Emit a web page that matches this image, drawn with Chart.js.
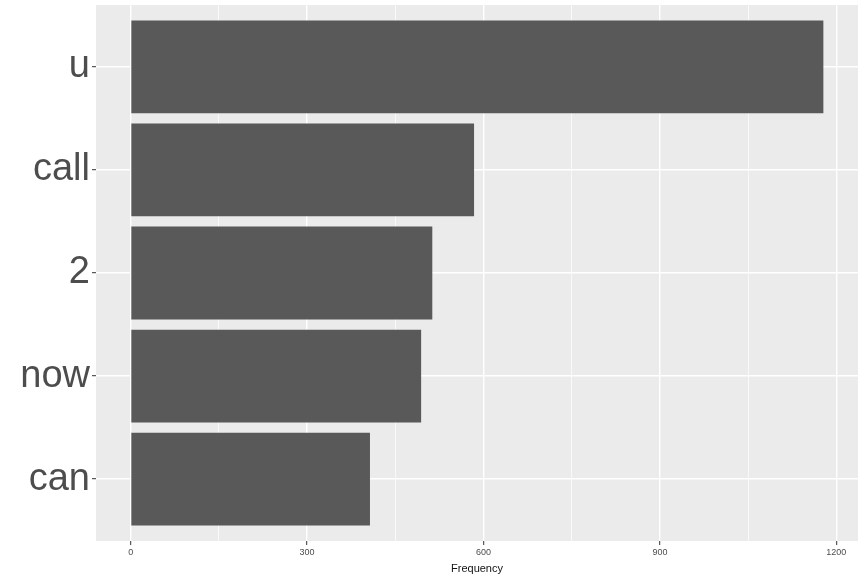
<!DOCTYPE html>
<html>
<head>
<meta charset="utf-8">
<script src="https://cdn.jsdelivr.net/npm/chart.js@4"></script>
<style>
html,body{margin:0;background:#fff}
#wrap{width:864px;height:576px}
</style>
</head>
<body>
<div id="wrap"><canvas id="wordChart"></canvas></div>
<script>
// ==========================================
// Top words - frequency bars
// ==========================================

const words = ["u", "call", "2", "now", "can"];
const counts = [1178, 584, 513, 494, 407];
const majorTicks = [0, 300, 600, 900, 1200];
const minorTicks = [150, 450, 750, 1050];

const PANEL_BG = "#EBEBEB";
const FONT = "'Liberation Sans', Arial, sans-serif";

// grey panel behind everything, like ggplot
const panelBg = {
    id: "panelBg",
    beforeDraw(chart){
        const a = chart.chartArea;
        const ctx = chart.ctx;
        ctx.save();
        ctx.fillStyle = PANEL_BG;
        ctx.fillRect(a.left, a.top, a.right - a.left, a.bottom - a.top);
        ctx.restore();
    },
    // discrete axis gets 0.6 of a band as padding on each side
    afterLayout(chart){
        const s = chart.scales.y;
        s._startValue = -0.6;
        s._valueRange = words.length - 1 + 1.2;
    }
};

const isMajor = v => majorTicks.includes(v);

new Chart(

    document.getElementById("wordChart"),

    {
        type: "bar",

        data: {
            labels: words,
            datasets: [{
                label: "Frequency",
                data: counts,
                backgroundColor: "#595959",
                borderWidth: 0,
                categoryPercentage: 1,
                barPercentage: 0.9
            }]
        },

        options: {
            indexAxis: "y",
            responsive: true,
            maintainAspectRatio: false,
            animation: false,
            layout: {
                padding: { top: 5, right: 6, left: 0, bottom: 0 }
            },
            plugins: {
                legend: { display: false },
                tooltip: { enabled: false }
            },
            scales: {
                x: {
                    type: "linear",
                    min: -58.9,
                    max: 1236.9,
                    afterBuildTicks(scale){
                        scale.ticks = majorTicks.concat(minorTicks)
                            .sort((a, b) => a - b)
                            .map(v => ({ value: v }));
                    },
                    afterFit(scale){
                        scale.height = 35;
                        scale.paddingLeft = 0;
                        scale.paddingRight = 0;
                    },
                    border: { display: false },
                    grid: {
                        color: "#ffffff",
                        lineWidth: ctx => isMajor(ctx.tick.value) ? 1.4 : 0.7,
                        tickColor: ctx => isMajor(ctx.tick.value) ? "#333333" : "rgba(0,0,0,0)",
                        tickLength: 4,
                        tickWidth: 1
                    },
                    ticks: {
                        autoSkip: false,
                        maxRotation: 0,
                        padding: 2,
                        color: "#4D4D4D",
                        font: { family: FONT, size: 9 },
                        callback: v => isMajor(v) ? String(v) : ""
                    },
                    title: {
                        display: true,
                        text: "Frequency",
                        color: "#111111",
                        font: { family: FONT, size: 11 },
                        padding: { top: 1, bottom: 0 }
                    }
                },
                y: {
                    offset: false,
                    afterFit(scale){
                        scale.width = 96;
                        scale.paddingTop = 0;
                        scale.paddingBottom = 0;
                    },
                    border: { display: false },
                    grid: {
                        offset: false,
                        color: "#ffffff",
                        lineWidth: 1.4,
                        tickColor: "#333333",
                        tickLength: 4,
                        tickWidth: 1
                    },
                    ticks: {
                        padding: 2,
                        color: "#4D4D4D",
                        font: { family: FONT, size: 38 }
                    }
                }
            }
        },

        plugins: [panelBg]
    }

);
</script>
</body>
</html>
